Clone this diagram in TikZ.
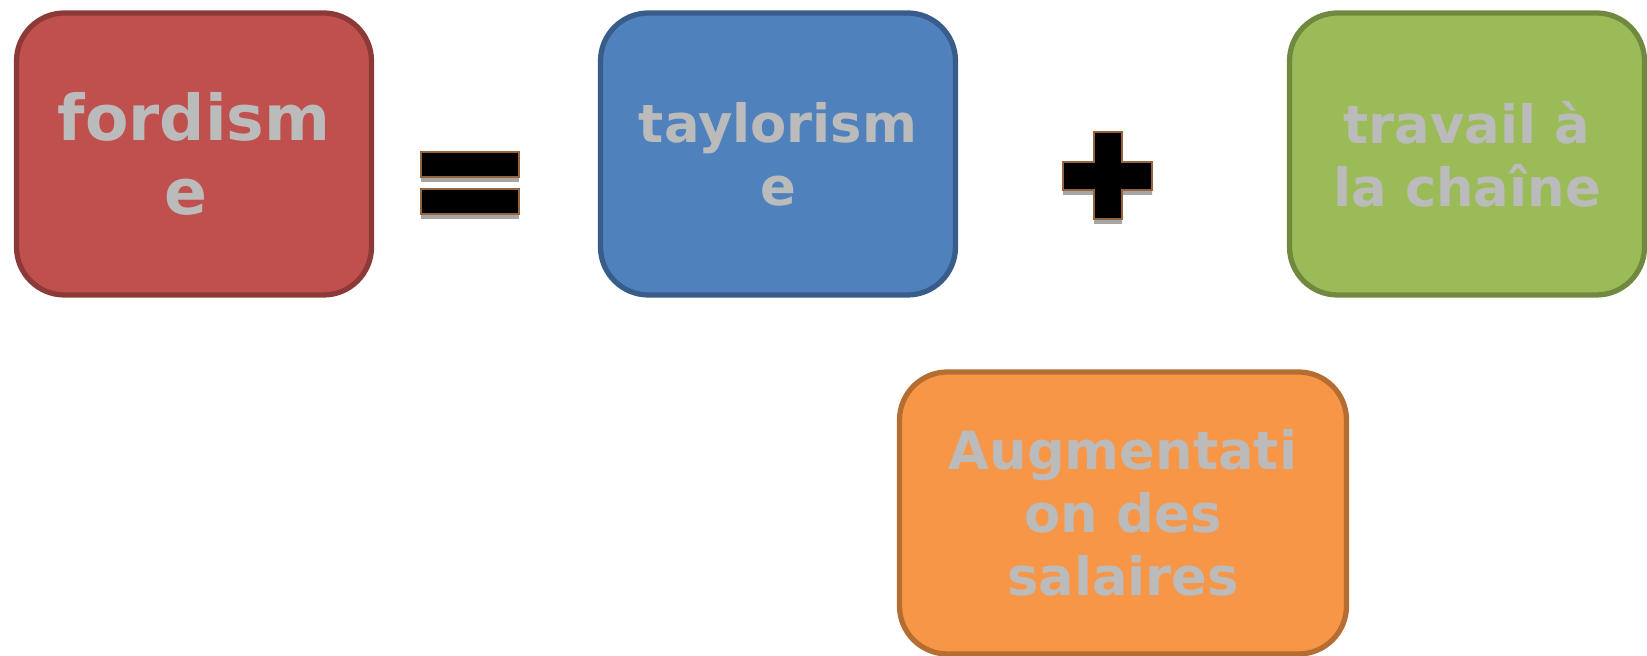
\documentclass[tikz,border=0pt]{standalone}
\usepackage{fontspec}
\setmainfont{DejaVu Sans}
\definecolor{texte}{RGB}{187,187,187}
\definecolor{rouge}{RGB}{192,80,77}
\definecolor{rougebord}{RGB}{140,58,56}
\definecolor{bleu}{RGB}{79,129,189}
\definecolor{bleubord}{RGB}{56,93,138}
\definecolor{vert}{RGB}{155,187,89}
\definecolor{vertbord}{RGB}{113,137,63}
\definecolor{orange}{RGB}{247,150,70}
\definecolor{orangebord}{RGB}{182,109,49}
\definecolor{ombre}{RGB}{166,166,166}
\definecolor{liseret}{RGB}{150,100,60}
\tikzset{
 bloc/.style={rectangle,rounded corners=0.48cm,line width=1.5pt,
  minimum width=3.55cm,minimum height=2.82cm,align=center,
  text=texte,font=\bfseries\fontsize{15}{18}\selectfont},
 grand/.style={font=\bfseries\fontsize{18}{21}\selectfont},
}
\newcommand{\bloc}[5]{%
 \node[bloc,fill={#3},draw={#4}] ({#1}) at ({#2}) {#5};%
}
\newcommand{\signe}[1]{%
 \fill[ombre,yshift=-0.05cm] #1;%
 \draw[liseret,line width=0.3pt,fill=black] #1;%
}

\begin{document}
\begin{tikzpicture}
  \useasboundingbox (0,0) rectangle (16.47,6.56);
  \node[bloc,grand,fill=rouge,draw=rougebord] (fordisme) at (1.94,5.02) {fordism\\e\kern0.16cm};
  \bloc{taylorisme}{7.78,5.02}{bleu}{bleubord}{taylorism\\e};
  \bloc{chaine}{14.67,5.02}{vert}{vertbord}{travail à\\la chaîne};
  \node[bloc,fill=orange,draw=orangebord,minimum width=4.47cm,minimum height=2.82cm] (salaires) at (11.23,1.43) {Augmentati\\on des\\salaires};
  % egal
  \signe{(4.21,4.79) rectangle (5.19,5.04)}
  \signe{(4.21,4.42) rectangle (5.19,4.67)}
  % plus
  \signe{(10.94,5.24) -- (11.22,5.24) -- (11.22,4.94) -- (11.52,4.94) -- (11.52,4.66) -- (11.22,4.66) -- (11.22,4.37) -- (10.94,4.37) -- (10.94,4.66) -- (10.63,4.66) -- (10.63,4.94) -- (10.94,4.94) -- cycle}
\end{tikzpicture}
\end{document}
